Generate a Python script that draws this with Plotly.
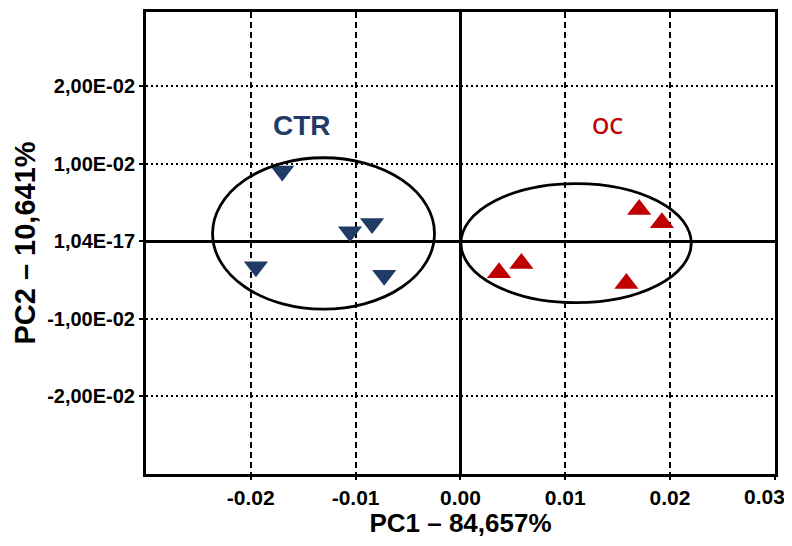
import plotly.graph_objects as go

# PCA scores
ctr_pc1 = [-0.0170, -0.01053, -0.00843, -0.01951, -0.00727]
ctr_pc2 = [0.0091, 0.00124, 0.00232, -0.00327, -0.00435]
oc_pc1 = [0.01706, 0.01923, 0.00369, 0.00582, 0.01584]
oc_pc2 = [0.00411, 0.0024, -0.00405, -0.00285, -0.00543]

# group ellipses: center x, center y, radius x, radius y
ctr_ellipse = [-0.01306, 0.00103, 0.01059, 0.00977]
oc_ellipse = [0.01104, -0.00022, 0.01099, 0.00767]

# group labels: text, x, y
group_labels = [("CTR", -0.0151, 0.0149), ("OC", 0.0140, 0.0150)]

x_tickvals = [-0.02, -0.01, 0.0, 0.01, 0.02, 0.03]
x_ticktext = ["-0.02", "-0.01", "0.00", "0.01", "0.02", ""]
x_edge_label = ("0.03", 0.03)  # last tick label, drawn inside the page edge
y_tickvals = [-0.02, -0.01, 1.04e-17, 0.01, 0.02]
y_ticktext = ["-2,00E-02", "-1,00E-02", "1,04E-17", "1,00E-02", "2,00E-02"]

BLUE = "#1F3B66"
RED = "#C00000"
FONT = "Liberation Sans, Arial, sans-serif"
TICKFONT_X = dict(family=FONT, size=21, color="black", weight="bold")

fig = go.Figure()
fig.add_trace(go.Scatter(
    x=ctr_pc1, y=ctr_pc2, mode="markers", name="CTR",
    marker=dict(symbol="triangle-down", size=21, color=BLUE, line=dict(width=0)),
))
fig.add_trace(go.Scatter(
    x=oc_pc1, y=oc_pc2, mode="markers", name="OC",
    marker=dict(symbol="triangle-up", size=21, color=RED, line=dict(width=0)),
))

for cx, cy, rx, ry in (ctr_ellipse, oc_ellipse):
    fig.add_shape(type="circle", xref="x", yref="y",
                  x0=cx - rx, x1=cx + rx, y0=cy - ry, y1=cy + ry,
                  line=dict(color="black", width=2.8), layer="above")

label_styles = {
    "CTR": dict(family=FONT, size=28, color=BLUE, weight="bold"),
    "OC": dict(family="Open Sans, Liberation Sans, sans-serif", size=22, color=RED, weight=600),
}
for text, lx, ly in group_labels:
    fig.add_annotation(x=lx, y=ly, xref="x", yref="y", text=text,
                       showarrow=False, font=label_styles[text])

fig.add_annotation(x=x_edge_label[1], y=0, xref="x", yref="paper",
                   text=x_edge_label[0], showarrow=False,
                   xanchor="right", yanchor="top", xshift=12, yshift=-9,
                   font=TICKFONT_X)

fig.update_layout(
    width=784, height=530,
    margin=dict(l=138, r=17, t=4, b=64),
    paper_bgcolor="white", plot_bgcolor="white",
    showlegend=False,
    font=dict(family=FONT, color="black"),
)
fig.update_xaxes(
    range=[-0.030, 0.03002],
    tickvals=x_tickvals, ticktext=x_ticktext,
    tickfont=TICKFONT_X,
    showgrid=True, gridcolor="black", gridwidth=1.8, griddash="6px,4px",
    zeroline=True, zerolinecolor="black", zerolinewidth=3,
    showline=True, linecolor="black", linewidth=3, mirror=True,
    ticks="outside", ticklen=3, tickcolor="black", tickwidth=1.5,
    automargin=False,
    title=dict(text="PC1 – 84,657%", standoff=9,
               font=dict(family=FONT, size=26, color="black", weight="bold")),
)
fig.update_yaxes(
    range=[-0.0300, 0.0296],
    tickvals=y_tickvals, ticktext=y_ticktext,
    tickfont=dict(family=FONT, size=20, color="black", weight="bold"),
    showgrid=True, gridcolor="black", gridwidth=2, griddash="2px,3px",
    zeroline=True, zerolinecolor="black", zerolinewidth=3,
    showline=True, linecolor="black", linewidth=3, mirror=True,
    ticks="outside", ticklen=4, tickcolor="black", tickwidth=2,
    automargin=False,
    title=dict(text="PC2 – 10,641%", standoff=4,
               font=dict(family=FONT, size=29, color="black", weight="bold")),
)

fig.write_html("out.html")
